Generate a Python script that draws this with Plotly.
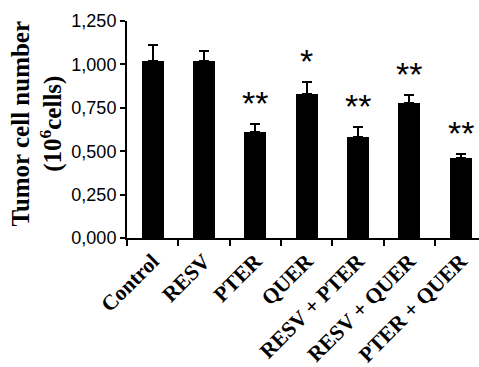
import plotly.graph_objects as go

categories = ["Control", "RESV", "PTER", "QUER", "RESV + PTER", "RESV + QUER", "PTER + QUER"]
values = [1.02, 1.02, 0.61, 0.83, 0.58, 0.78, 0.46]
errors = [0.09, 0.055, 0.045, 0.07, 0.06, 0.045, 0.022]
stars = ["", "", "**", "*", "**", "**", "**"]
ytick_vals = [0, 0.25, 0.5, 0.75, 1.0, 1.25]
y_title = "<b>Tumor cell number<br>(10<sup>6</sup>cells)</b>"

fig = go.Figure()
fig.add_trace(go.Bar(
    x=categories, y=values, width=0.43,
    marker=dict(color="black", line=dict(width=0)),
    error_y=dict(type="data", array=errors, arrayminus=[0]*len(errors), symmetric=False,
                 color="black", thickness=2, width=5),
))

for c, v, e, s in zip(categories, values, errors, stars):
    if s:
        fig.add_annotation(x=c, y=v + e, text=s, showarrow=False, yanchor="bottom",
                           yshift=0, font=dict(family="Liberation Sans", size=34, color="black"))

# y-axis title as a rotated annotation for precise placement
fig.add_annotation(x=0, y=0.5, xref="paper", yref="paper", text=y_title, showarrow=False,
                   textangle=-90, xanchor="center", yanchor="middle", xshift=-90, yshift=6,
                   font=dict(family="Liberation Serif", size=25, color="black"))

fig.update_layout(
    width=479, height=367,
    margin=dict(l=127, r=0, t=21, b=129),
    paper_bgcolor="white", plot_bgcolor="white",
    showlegend=False,
    separators=", ",
    bargap=0,
)
fig.update_xaxes(
    range=[-0.5, 6.36], showline=True, linecolor="black", linewidth=2,
    ticks="outside", tickson="boundaries", ticklen=6, tickwidth=2, tickcolor="black",
    tickangle=-45, automargin=False,
    tickfont=dict(family="Liberation Serif", size=21.5, color="black"),
    tickprefix="<b>", ticksuffix="</b>",
)
fig.update_yaxes(
    range=[0, 1.25], tickvals=ytick_vals, tickformat=".3f",
    showline=True, linecolor="black", linewidth=2, showgrid=False, zeroline=False,
    ticks="outside", ticklen=5, tickwidth=2, tickcolor="black", automargin=False,
    tickfont=dict(family="Liberation Sans", size=18, color="black"),
)

fig.write_html("out.html", config={"displayModeBar": False},
               post_script="document.body.style.margin='0px';")
